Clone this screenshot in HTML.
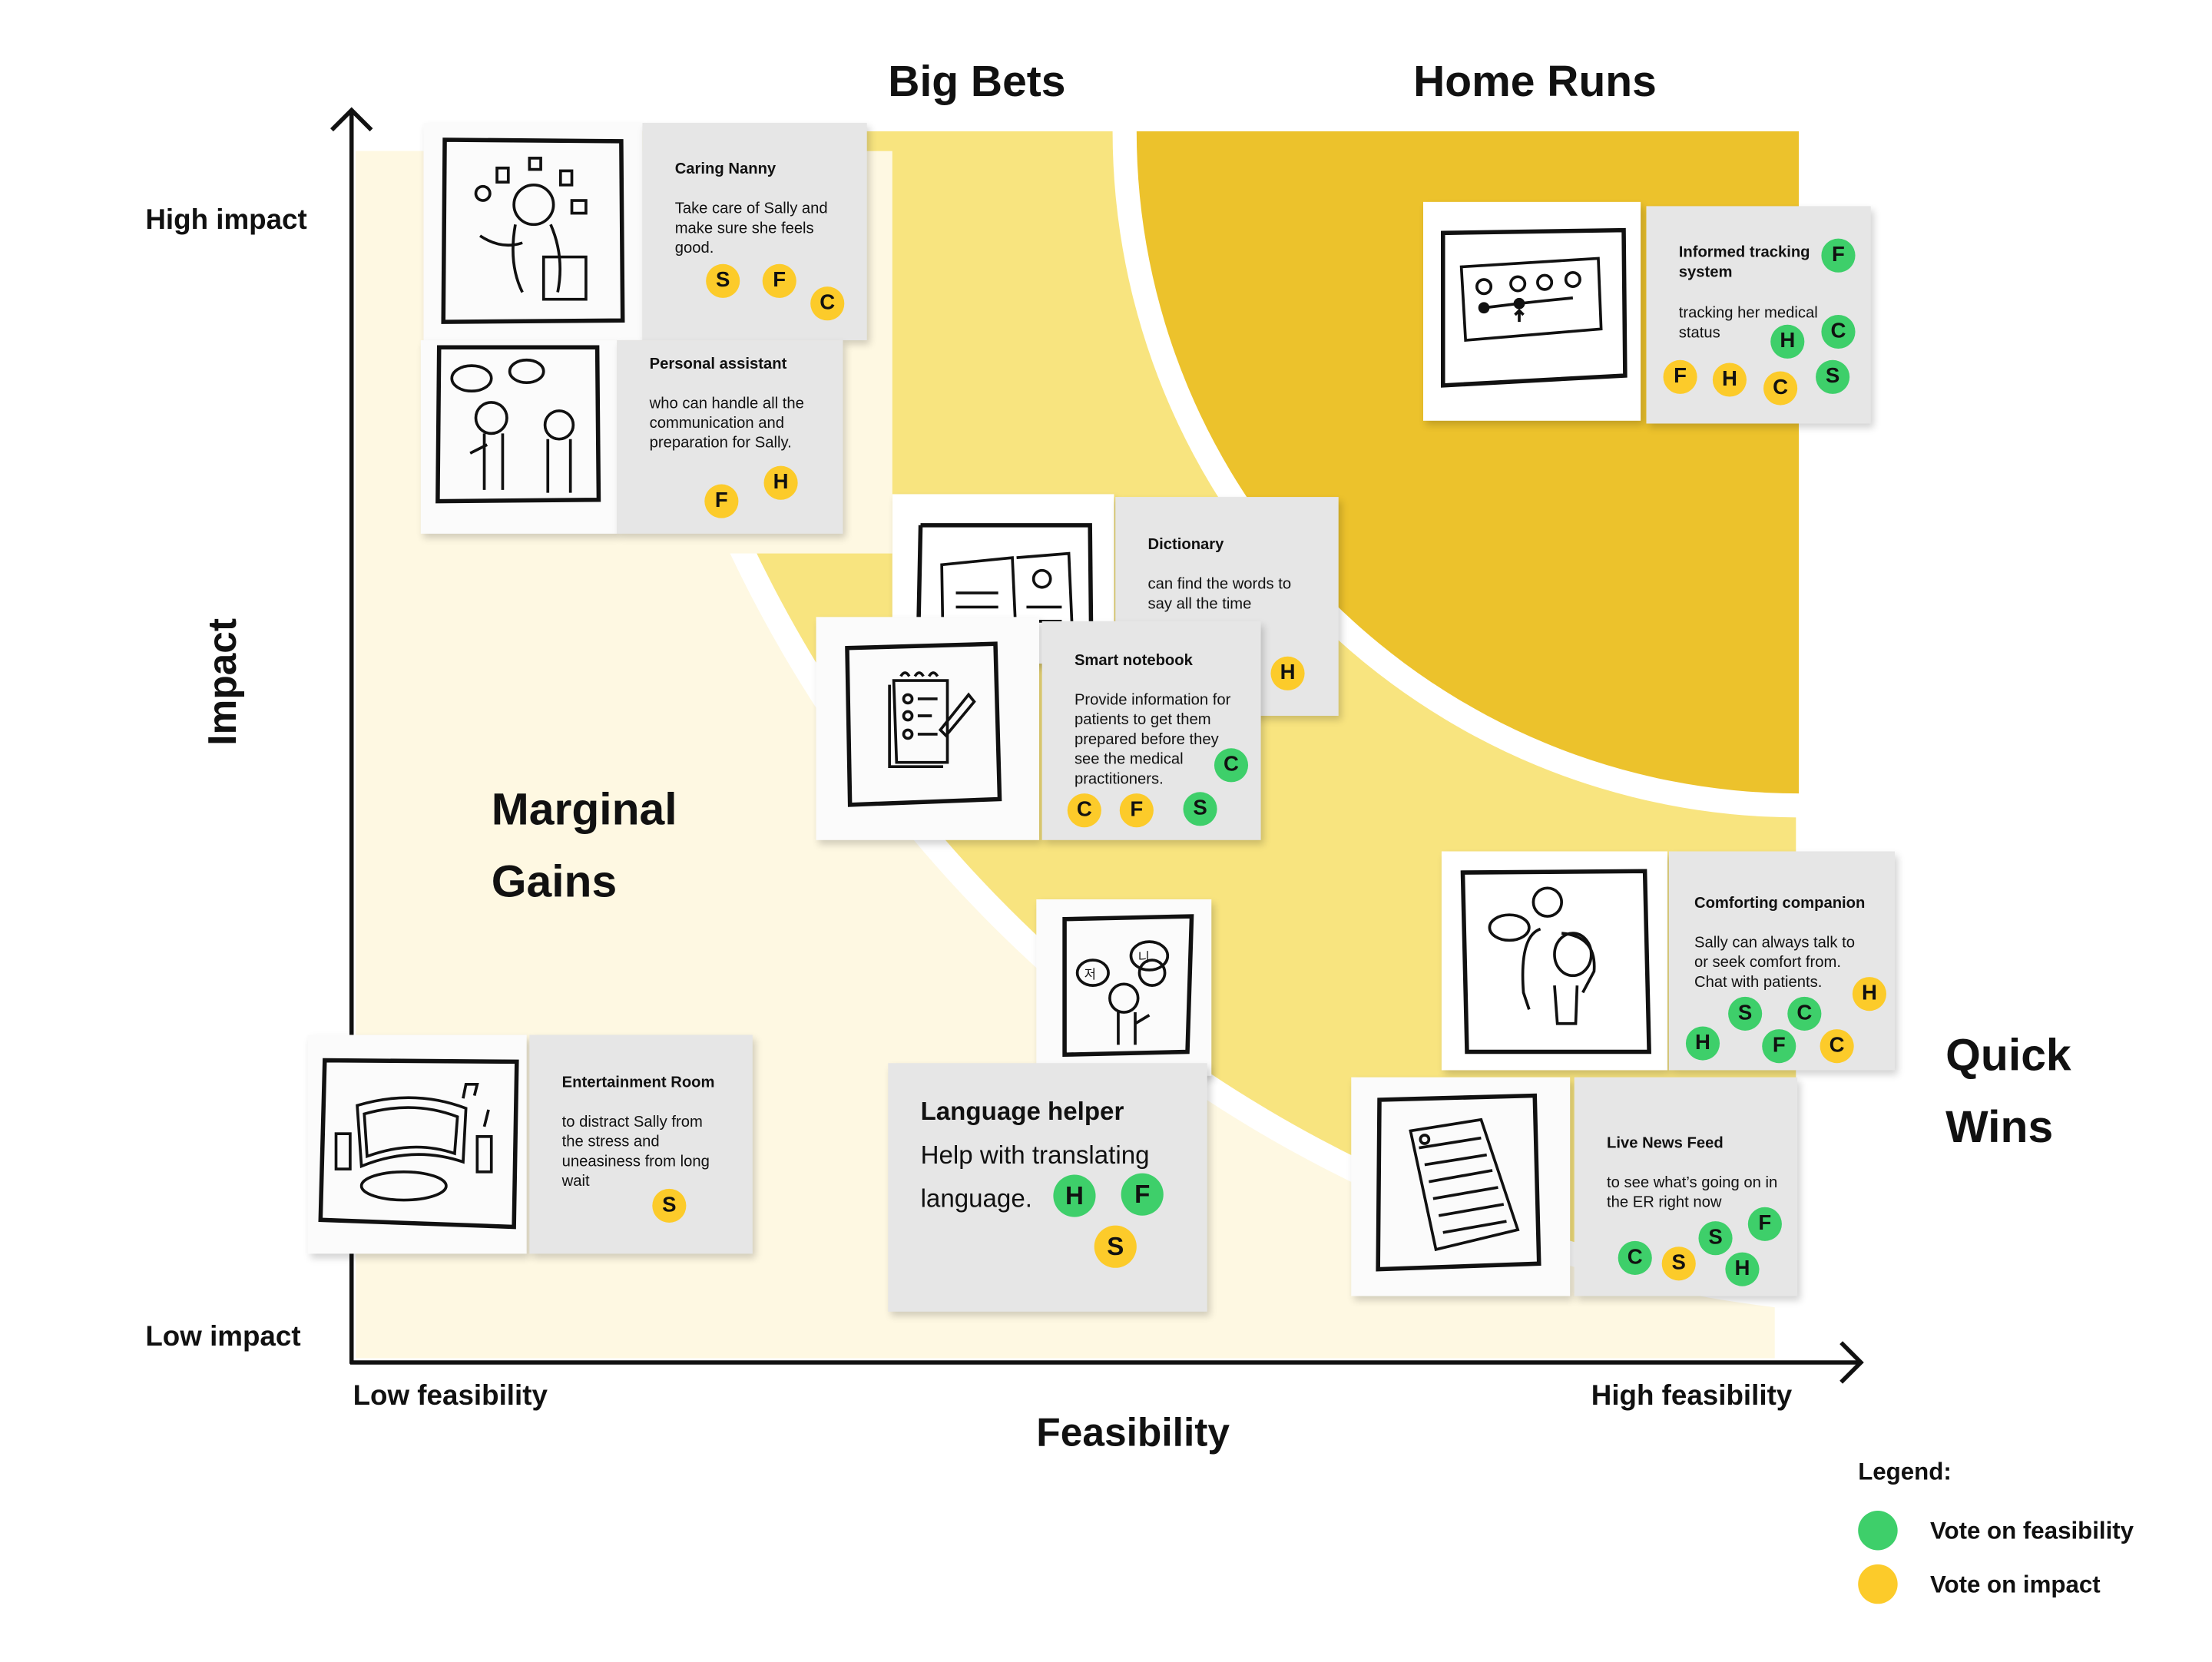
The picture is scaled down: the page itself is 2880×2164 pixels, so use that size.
<!DOCTYPE html>
<html><head><meta charset="utf-8"><style>
html,body{margin:0;padding:0;background:#fff;overflow:hidden}
#root{position:absolute;left:0;top:0;width:1567px;height:1177px;transform:scale(1.8383);transform-origin:0 0;font-family:"Liberation Sans",sans-serif;color:#111}
.a{position:absolute}
.img{position:absolute;background:#fbfbfb;box-shadow:2px 3px 5px rgba(0,0,0,.18)}
.txt{position:absolute;background:#e6e6e6;box-shadow:2px 3px 5px rgba(0,0,0,.18);font-size:11px;line-height:14px}
.txt .t{position:absolute;left:23px;font-weight:bold}
.txt .b{position:absolute;left:23px}
.d{position:absolute;width:24px;height:24px;border-radius:50%;font-weight:bold;font-size:15px;line-height:24px;text-align:center;margin:-12px 0 0 -12px;color:#111}
.g{background:#3ecf6a}.y{background:#fccb2a}
.L{width:30px;height:30px;line-height:30px;font-size:18px;margin:-15px 0 0 -15px}
.lab{position:absolute;font-weight:bold;white-space:nowrap}
svg.sk{position:absolute;left:0;top:0}
</style></head><body><div id="root">
<svg class="a" style="left:0;top:0" width="1567" height="1177">
<defs><clipPath id="pc"><rect x="252" y="93" width="1020" height="869"/></clipPath>
<clipPath id="dc"><rect x="700" y="93" width="574" height="500"/></clipPath></defs>
<rect x="252" y="107" width="1005" height="855" fill="#fef8e2"/>
<g clip-path="url(#pc)">
<circle cx="1372" cy="-13" r="946" fill="#fff"/>
<circle cx="1372" cy="-13" r="929" fill="#f8e47f"/>
</g>
<rect x="252" y="107" width="380" height="285" fill="#fef8e2"/>
<g clip-path="url(#dc)">
<circle cx="1274" cy="93" r="486" fill="#fff"/>
<circle cx="1274" cy="93" r="469" fill="#ecc22c"/>
</g>
<line x1="249" y1="80" x2="249" y2="966" stroke="#111" stroke-width="3"/>
<line x1="248" y1="965" x2="1316" y2="965" stroke="#111" stroke-width="3"/>
<polyline points="235,92 249,78 263,92" fill="none" stroke="#111" stroke-width="3"/>
<polyline points="1304,951 1318,965 1304,979" fill="none" stroke="#111" stroke-width="3"/>
</svg>

<div class="lab" style="left:629px;top:40px;font-size:31px">Big Bets</div>
<div class="lab" style="left:1001px;top:40px;font-size:31px">Home Runs</div>
<div class="lab" style="left:103px;top:145px;font-size:20px">High impact</div>
<div class="lab" style="left:103px;top:936px;font-size:20px">Low impact</div>
<div class="lab" style="left:108px;top:467px;font-size:28px;transform:rotate(-90deg);transform-origin:50% 50%;width:100px;text-align:center">Impact</div>
<div class="lab" style="left:348px;top:548px;font-size:32px;line-height:51px">Marginal<br>Gains</div>
<div class="lab" style="left:1378px;top:722px;font-size:32px;line-height:51px">Quick<br>Wins</div>
<div class="lab" style="left:250px;top:978px;font-size:20px">Low feasibility</div>
<div class="lab" style="left:1127px;top:978px;font-size:20px">High feasibility</div>
<div class="lab" style="left:734px;top:999px;font-size:28px">Feasibility</div>
<div class="lab" style="left:1316px;top:1033px;font-size:17px">Legend:</div>
<div class="a g" style="left:1316px;top:1070px;width:28px;height:28px;border-radius:50%"></div>
<div class="lab" style="left:1367px;top:1075px;font-size:17px">Vote on feasibility</div>
<div class="a y" style="left:1316px;top:1108px;width:28px;height:28px;border-radius:50%"></div>
<div class="lab" style="left:1367px;top:1113px;font-size:17px">Vote on impact</div>

<!-- Caring Nanny -->
<div class="img" style="left:300px;top:87px;width:155px;height:154px"><svg class="sk" width="155" height="154" fill="none" stroke="#111" stroke-width="2"><path d="M15 12 L140 13 L141 140 L14 141 Z" stroke-width="3"/><circle cx="78" cy="58" r="14"/><path d="M65 72 Q60 100 70 120 M90 72 Q100 95 95 120 M85 95 h30 v30 h-30z M40 80 q15 10 30 5"/><rect x="52" y="32" width="8" height="10"/><rect x="75" y="25" width="8" height="8"/><rect x="97" y="34" width="8" height="10"/><rect x="105" y="55" width="10" height="9"/><circle cx="42" cy="50" r="5"/></svg></div>
<div class="txt" style="left:455px;top:87px;width:159px;height:154px"><div class="t" style="top:26px">Caring Nanny</div><div class="b" style="top:54px">Take care of Sally and<br>make sure she feels<br>good.</div></div>
<div class="d y" style="left:512px;top:199px">S</div><div class="d y" style="left:552px;top:199px">F</div><div class="d y" style="left:586px;top:215px">C</div>

<!-- Personal assistant -->
<div class="img" style="left:298px;top:241px;width:139px;height:137px"><svg class="sk" width="139" height="137" fill="none" stroke="#111" stroke-width="2"><path d="M13 5 L125 5 L126 113 L12 114 Z" stroke-width="3"/><ellipse cx="36" cy="27" rx="14" ry="9"/><ellipse cx="75" cy="22" rx="12" ry="8"/><circle cx="50" cy="55" r="11"/><circle cx="98" cy="60" r="10"/><path d="M45 66 v40 M58 66 v40 M90 70 v38 M106 70 v38 M35 80 l12 -6"/></svg></div>
<div class="txt" style="left:437px;top:241px;width:160px;height:137px"><div class="t" style="top:10px">Personal assistant</div><div class="b" style="top:38px">who can handle all the<br>communication and<br>preparation for Sally.</div></div>
<div class="d y" style="left:511px;top:355px">F</div><div class="d y" style="left:553px;top:342px">H</div>

<!-- Informed tracking -->
<div class="img" style="left:1008px;top:143px;width:154px;height:155px;background:#fff"><svg class="sk" width="154" height="155" fill="none" stroke="#111" stroke-width="2"><path d="M14 22 L142 20 L143 123 L14 130 Z" stroke-width="3"/><path d="M27 46 L124 40 L126 90 L30 98 Z"/><circle cx="43" cy="60" r="5"/><circle cx="67" cy="58" r="5"/><circle cx="86" cy="57" r="5"/><circle cx="106" cy="55" r="5"/><path d="M43 75 L68 72 L86 70 L106 68" /><circle cx="43" cy="75" r="3" fill="#111"/><circle cx="68" cy="72" r="3" fill="#111"/><path d="M68 85 v-8 m-3 3 l3 -3 l3 3"/></svg></div>
<div class="txt" style="left:1166px;top:146px;width:159px;height:154px"><div class="t" style="top:26px">Informed tracking<br>system</div><div class="b" style="top:69px">tracking her medical<br>status</div></div>
<div class="d g" style="left:1302px;top:181px">F</div><div class="d g" style="left:1266px;top:242px">H</div><div class="d g" style="left:1302px;top:235px">C</div>
<div class="d y" style="left:1190px;top:267px">F</div><div class="d y" style="left:1225px;top:269px">H</div><div class="d y" style="left:1261px;top:275px">C</div><div class="d g" style="left:1298px;top:267px">S</div>

<!-- Dictionary -->
<div class="img" style="left:632px;top:350px;width:157px;height:120px;background:#fff"><svg class="sk" width="157" height="120" fill="none" stroke="#111" stroke-width="2"><path d="M20 22 L140 22 L141 120 M20 22 L18 120" stroke-width="3"/><path d="M35 50 L85 45 L88 110 L36 112 Z M88 45 L125 42 L128 110"/><circle cx="106" cy="60" r="6"/><path d="M45 70 h30 M45 80 h30 M45 90 h30 M95 80 h25 M95 90 h25"/></svg></div>
<div class="txt" style="left:790px;top:352px;width:158px;height:155px"><div class="t" style="top:27px">Dictionary</div><div class="b" style="top:55px">can find the words to<br>say all the time</div></div>
<div class="d y" style="left:912px;top:477px">H</div>

<!-- Smart notebook -->
<div class="img" style="left:578px;top:437px;width:158px;height:158px"><svg class="sk" width="158" height="158" fill="none" stroke="#111" stroke-width="2"><path d="M22 22 L127 19 L130 129 L24 133 Z" stroke-width="3"/><path d="M55 45 L93 45 L93 103 L57 103 Z M52 48 L52 106 L90 106"/><path d="M60 42 q3-5 6 0 M70 42 q3-5 6 0 M80 42 q3-5 6 0"/><circle cx="65" cy="58" r="3"/><circle cx="65" cy="70" r="3"/><circle cx="65" cy="83" r="3"/><path d="M72 58 h14 M72 70 h10 M72 83 h14 M88 80 L108 55 L112 60 L92 84 Z"/></svg></div>
<div class="txt" style="left:738px;top:440px;width:155px;height:155px"><div class="t" style="top:21px">Smart notebook</div><div class="b" style="top:49px">Provide information for<br>patients to get them<br>prepared before they<br>see the medical<br>practitioners.</div></div>
<div class="d g" style="left:872px;top:542px">C</div><div class="d y" style="left:768px;top:574px">C</div><div class="d y" style="left:805px;top:574px">F</div><div class="d g" style="left:850px;top:573px">S</div>

<!-- Language helper -->
<div class="img" style="left:734px;top:637px;width:124px;height:125px"><svg class="sk" width="124" height="125" fill="none" stroke="#111" stroke-width="2"><path d="M20 14 L110 12 L107 108 L20 110 Z" stroke-width="3"/><ellipse cx="40" cy="52" rx="11" ry="9"/><ellipse cx="80" cy="40" rx="13" ry="10"/><ellipse cx="82" cy="52" rx="9" ry="9"/><circle cx="62" cy="70" r="10"/><path d="M58 80 v23 M70 80 v23 M70 88 l10 -6"/><text x="34" y="56" font-size="9" fill="#111" stroke="none">저</text><text x="72" y="44" font-size="9" fill="#111" stroke="none">니</text></svg></div>
<div class="txt" style="left:629px;top:753px;width:226px;height:176px;font-size:18px;line-height:31px"><div class="t" style="top:19px">Language helper</div><div class="b" style="top:50px">Help with translating<br>language.</div></div>
<div class="d g L" style="left:761px;top:847px">H</div><div class="d g L" style="left:809px;top:846px">F</div><div class="d y L" style="left:790px;top:883px">S</div>

<!-- Entertainment -->
<div class="img" style="left:218px;top:733px;width:155px;height:155px"><svg class="sk" width="155" height="155" fill="none" stroke="#111" stroke-width="2"><path d="M12 18 L148 19 L146 136 L9 131 Z" stroke-width="3"/><path d="M35 50 Q75 38 112 52 L110 90 Q75 78 38 93 Z M40 56 Q75 46 106 58 L104 84 Q75 74 42 86 Z"/><rect x="20" y="70" width="10" height="25"/><rect x="120" y="72" width="10" height="25"/><ellipse cx="68" cy="107" rx="30" ry="10"/><path d="M110 45 l2 -10 h8 l-2 8 M125 65 l3 -12"/></svg></div>
<div class="txt" style="left:375px;top:733px;width:158px;height:155px"><div class="t" style="top:27px">Entertainment Room</div><div class="b" style="top:55px">to distract Sally from<br>the stress and<br>uneasiness from long<br>wait</div></div>
<div class="d y" style="left:474px;top:854px">S</div>

<!-- Comforting companion -->
<div class="img" style="left:1021px;top:603px;width:160px;height:155px;background:#fff"><svg class="sk" width="160" height="155" fill="none" stroke="#111" stroke-width="2"><path d="M15 15 L144 14 L147 142 L18 142 Z" stroke-width="3"/><ellipse cx="48" cy="54" rx="14" ry="9"/><ellipse cx="75" cy="36" rx="10" ry="10"/><path d="M70 55 Q55 60 58 100 L62 112 M85 58 Q110 60 108 85 L100 100"/><ellipse cx="93" cy="73" rx="13" ry="15"/><path d="M80 95 L82 122 L95 122 L96 95"/></svg></div>
<div class="txt" style="left:1182px;top:603px;width:160px;height:155px"><div class="t" style="left:18px;top:30px">Comforting companion</div><div class="b" style="left:18px;top:58px">Sally can always talk to<br>or seek comfort from.<br>Chat with patients.</div></div>
<div class="d y" style="left:1324px;top:704px">H</div><div class="d g" style="left:1236px;top:718px">S</div><div class="d g" style="left:1278px;top:718px">C</div><div class="d g" style="left:1206px;top:739px">H</div><div class="d g" style="left:1260px;top:741px">F</div><div class="d y" style="left:1301px;top:741px">C</div>

<!-- Live News Feed -->
<div class="img" style="left:957px;top:763px;width:155px;height:155px"><svg class="sk" width="155" height="155" fill="none" stroke="#111" stroke-width="2"><path d="M20 16 L130 13 L133 132 L19 136 Z" stroke-width="3"/><path d="M42 38 L92 30 L118 108 L60 122 Z"/><path d="M48 50 L92 43 M52 62 L96 55 M55 74 L100 66 M58 86 L104 78 M62 98 L108 90 M65 110 L110 102"/><circle cx="52" cy="44" r="3"/></svg></div>
<div class="txt" style="left:1115px;top:763px;width:158px;height:155px"><div class="t" style="top:40px">Live News Feed</div><div class="b" style="top:68px">to see what’s going on in<br>the ER right now</div></div>
<div class="d g" style="left:1250px;top:867px">F</div><div class="d g" style="left:1215px;top:877px">S</div><div class="d g" style="left:1158px;top:891px">C</div><div class="d y" style="left:1189px;top:895px">S</div><div class="d g" style="left:1234px;top:899px">H</div>
</div></body></html>
